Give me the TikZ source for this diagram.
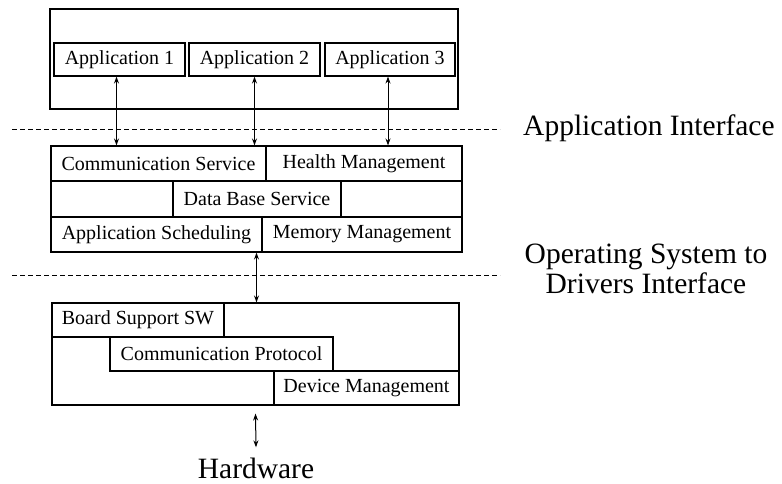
\documentclass[tikz,border=0pt]{standalone}
\usepackage{fontspec}
\setmainfont{Liberation Serif}
\usetikzlibrary{arrows.meta}

\begin{document}
\begin{tikzpicture}[x=1pt,y=-1pt,
	frame/.style={draw,line width=1.1pt,inner sep=0pt},
	box/.style={draw,line width=1.1pt,inner sep=0pt,font=\fontsize{20}{21}\selectfont},
	sep/.style={line width=0.8pt,dash pattern=on 5pt off 3pt},
	link/.style={{Stealth[length=7pt,width=5pt]}-{Stealth[length=7pt,width=5pt]},line width=1pt},
	big/.style={inner sep=0pt,font=\fontsize{29.5}{30}\selectfont}]
	\useasboundingbox (0,0) rectangle (782,483);

	% applications
	\node[frame,minimum width=408pt,minimum height=100pt] (apps) at (254,59) {};
	\node[box,minimum width=131pt,minimum height=33pt] (app1) at (119.5,59.5) {Application 1};
	\node[box,minimum width=131pt,minimum height=33pt] (app2) at (254.5,59.5) {Application 2};
	\node[box,minimum width=130pt,minimum height=33pt] (app3) at (390,59.5) {Application 3};

	% operating system
	\node[frame,minimum width=411pt,minimum height=106pt] (os) at (256.5,199) {};
	\node[box,minimum width=215pt,minimum height=35pt] (comm) at (158.5,163.5) {Communication Service};
	\node[box,minimum width=196pt,minimum height=35pt] (health) at (364,163.5) {Health Management};
	\node[box,minimum width=168pt,minimum height=36pt] (dbs) at (257,199) {Data Base Service};
	\node[box,minimum width=211pt,minimum height=35pt] (sched) at (156.5,234.5) {Application Scheduling};
	\node[box,minimum width=200pt,minimum height=35pt] (mem) at (362,234.5) {Memory Management};

	% drivers
	\node[frame,minimum width=407pt,minimum height=102pt] (drv) at (255.5,354) {};
	\node[box,minimum width=172pt,minimum height=34pt] (bsp) at (138,320) {Board Support SW};
	\node[box,minimum width=223pt,minimum height=34pt] (cprot) at (221.5,354) {Communication Protocol};
	\node[box,minimum width=185pt,minimum height=34pt] (devm) at (366.5,388) {Device Management};

	\node[big,anchor=base] (hw) at (256,478) {Hardware};
	\node[big,anchor=base west] (api) at (523,135) {Application Interface};
	\node[big,align=center] (dri) at (646,268.5) {Operating System to\\Drivers Interface};

	\draw[sep] (12,129) -- (500,129);
	\draw[sep] (12,275) -- (500,275);

	\draw[link] ([xshift=-3pt]app1.south) -- ([xshift=-3pt]app1.south |- os.north);
	\draw[link] (app2.south) -- (app2.south |- os.north);
	\draw[link] ([xshift=-2pt]app3.south) -- ([xshift=-2pt]app3.south |- os.north);
	\draw[link] (os.south) -- (os.south |- drv.north);
	\draw[link] ([yshift=-8pt]drv.south) -- ([yshift=10pt]hw.north);

\end{tikzpicture}
\end{document}
